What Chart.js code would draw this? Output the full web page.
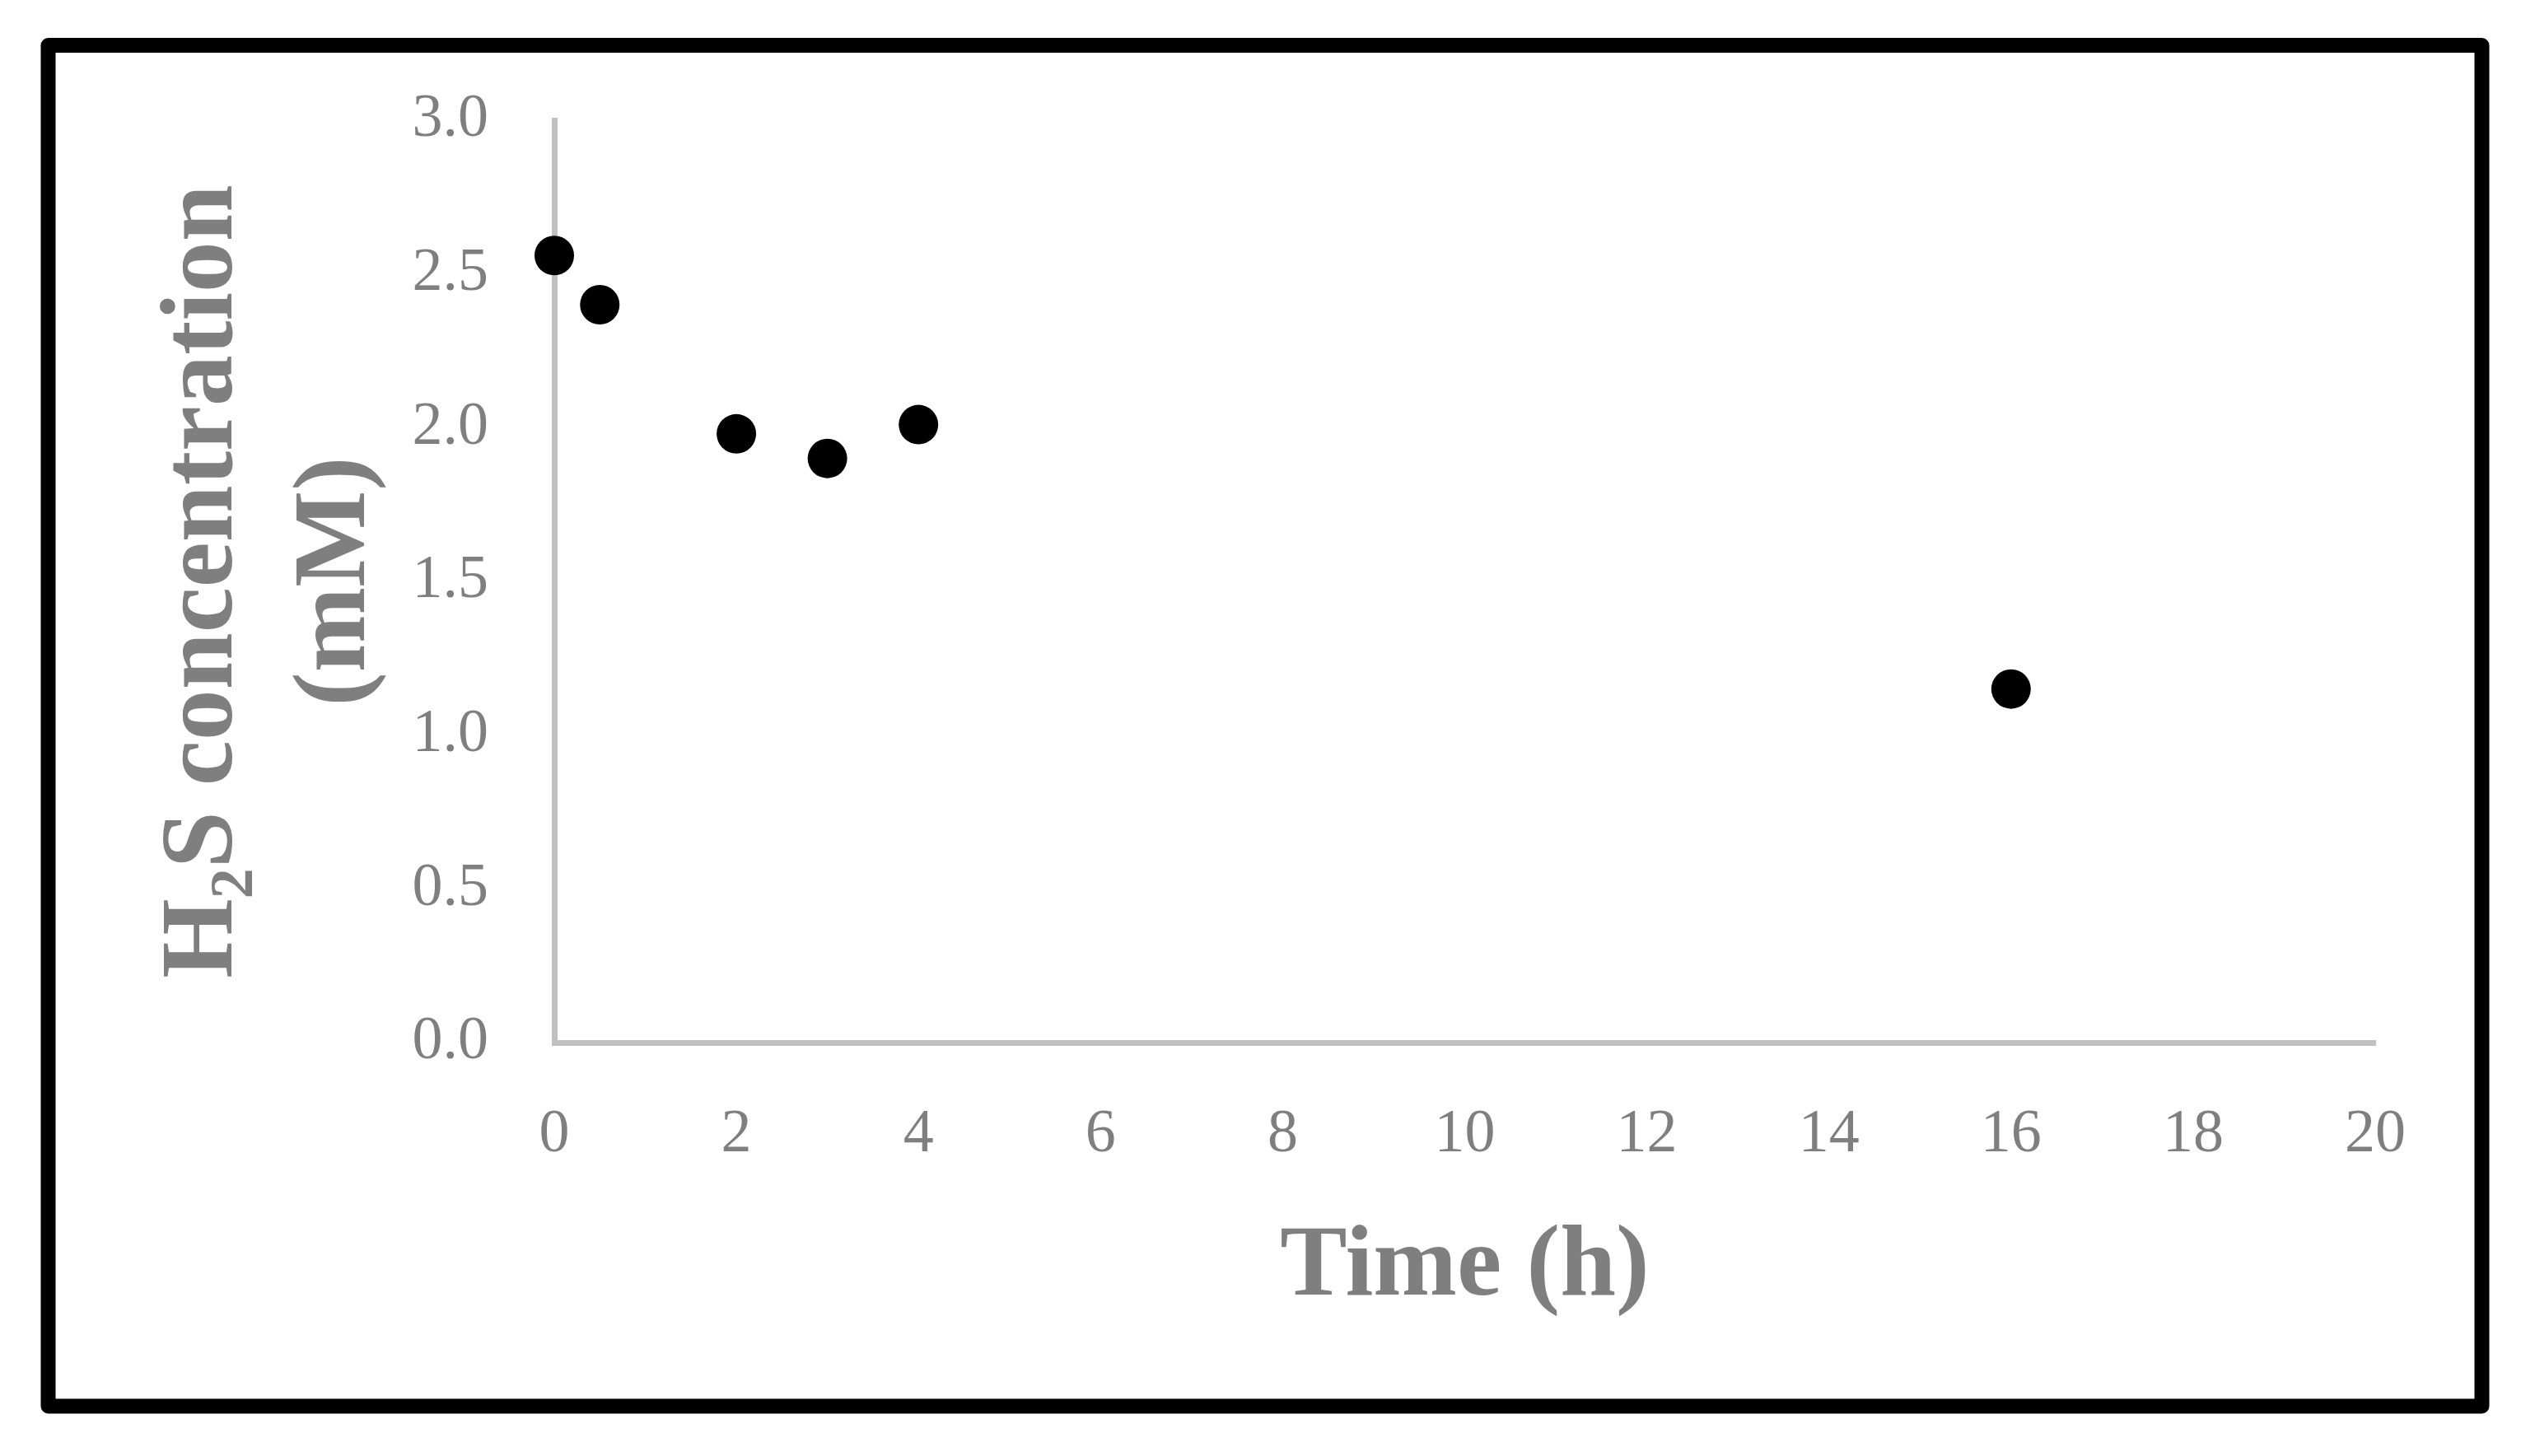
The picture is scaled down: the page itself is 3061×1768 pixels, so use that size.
<!DOCTYPE html>
<html>
<head>
<meta charset="utf-8">
<script src="https://cdn.jsdelivr.net/npm/chart.js@4/dist/chart.umd.min.js"></script>
<style>
  html, body { margin: 0; padding: 0; background: #ffffff; }
  #wrap { width: 3061px; height: 1768px; }
</style>
</head>
<body>
<div id="wrap"><canvas id="c" width="3061" height="1768"></canvas></div>
<script>
// ---- data ----
const timeHours = [0, 0.5, 2, 3, 4, 16];
const h2sConcentration = [2.56, 2.40, 1.98, 1.90, 2.01, 1.15];
const xTickRange = [0, 20];
const xTickStep = 2;
const yTickRange = [0, 3];
const yTickStep = 0.5;
const xTitle = 'Time (h)';
const yTitle = ['H\u2082S concentration', '(mM)'];

const points = timeHours.map((t, i) => ({ x: t, y: h2sConcentration[i] }));

const GRAY_TEXT = '#7f7f7f';
const AXIS_LINE = '#c0c0c0';
const FONT_FAMILY = '"Liberation Serif", "DejaVu Serif", serif';

const framePlugin = {
  id: 'frame',
  beforeDraw(chart) {
    const ctx = chart.ctx;
    ctx.save();
    ctx.fillStyle = '#ffffff';
    ctx.fillRect(0, 0, chart.width, chart.height);
    ctx.restore();
  },
  afterDraw(chart) {
    const ctx = chart.ctx;
    ctx.save();
    ctx.strokeStyle = '#000000';
    ctx.lineWidth = 18;
    ctx.lineJoin = 'round';
    ctx.strokeRect(58.5, 55, 3013.5 - 58.5, 1707.5 - 55);
    ctx.restore();
  }
};

new Chart(document.getElementById('c'), {
  type: 'scatter',
  data: {
    datasets: [{
      data: points,
      backgroundColor: '#000000',
      borderColor: '#000000',
      borderWidth: 0,
      pointRadius: 24,
      pointHoverRadius: 24,
      showLine: false,
      clip: false
    }]
  },
  options: {
    responsive: false,
    animation: false,
    devicePixelRatio: 1,
    layout: {
      autoPadding: false,
      padding: { left: 0, top: 146, right: 177, bottom: 0 }
    },
    plugins: {
      legend: { display: false },
      tooltip: { enabled: false }
    },
    scales: {
      x: {
        type: 'linear',
        position: 'bottom',
        min: xTickRange[0],
        max: xTickRange[1],
        grid: { display: false, drawTicks: false },
        border: { display: true, color: AXIS_LINE, width: 7 },
        ticks: {
          stepSize: xTickStep,
          color: GRAY_TEXT,
          font: { family: FONT_FAMILY, size: 74 },
          padding: 68,
          maxRotation: 0,
          autoSkip: false
        },
        title: {
          display: true,
          text: xTitle,
          color: GRAY_TEXT,
          font: { family: FONT_FAMILY, size: 122, weight: 'bold', lineHeight: 1.2 },
          padding: { top: 0, bottom: 154 }
        },
        afterFit(scale) { scale.height = 502; }
      },
      y: {
        type: 'linear',
        position: 'left',
        min: yTickRange[0],
        max: yTickRange[1],
        grid: { display: false, drawTicks: false },
        border: { display: true, color: AXIS_LINE, width: 7 },
        ticks: {
          stepSize: yTickStep,
          color: GRAY_TEXT,
          font: { family: FONT_FAMILY, size: 74 },
          padding: 80,
          callback: (v) => Number(v).toFixed(1)
        },
        title: {
          display: true,
          text: yTitle,
          color: GRAY_TEXT,
          font: { family: FONT_FAMILY, size: 124, weight: 'bold', lineHeight: 1.3 },
          padding: { top: 168, bottom: 0 }
        },
        afterFit(scale) { scale.width = 673; }
      }
    }
  },
  plugins: [framePlugin]
});
</script>
</body>
</html>
